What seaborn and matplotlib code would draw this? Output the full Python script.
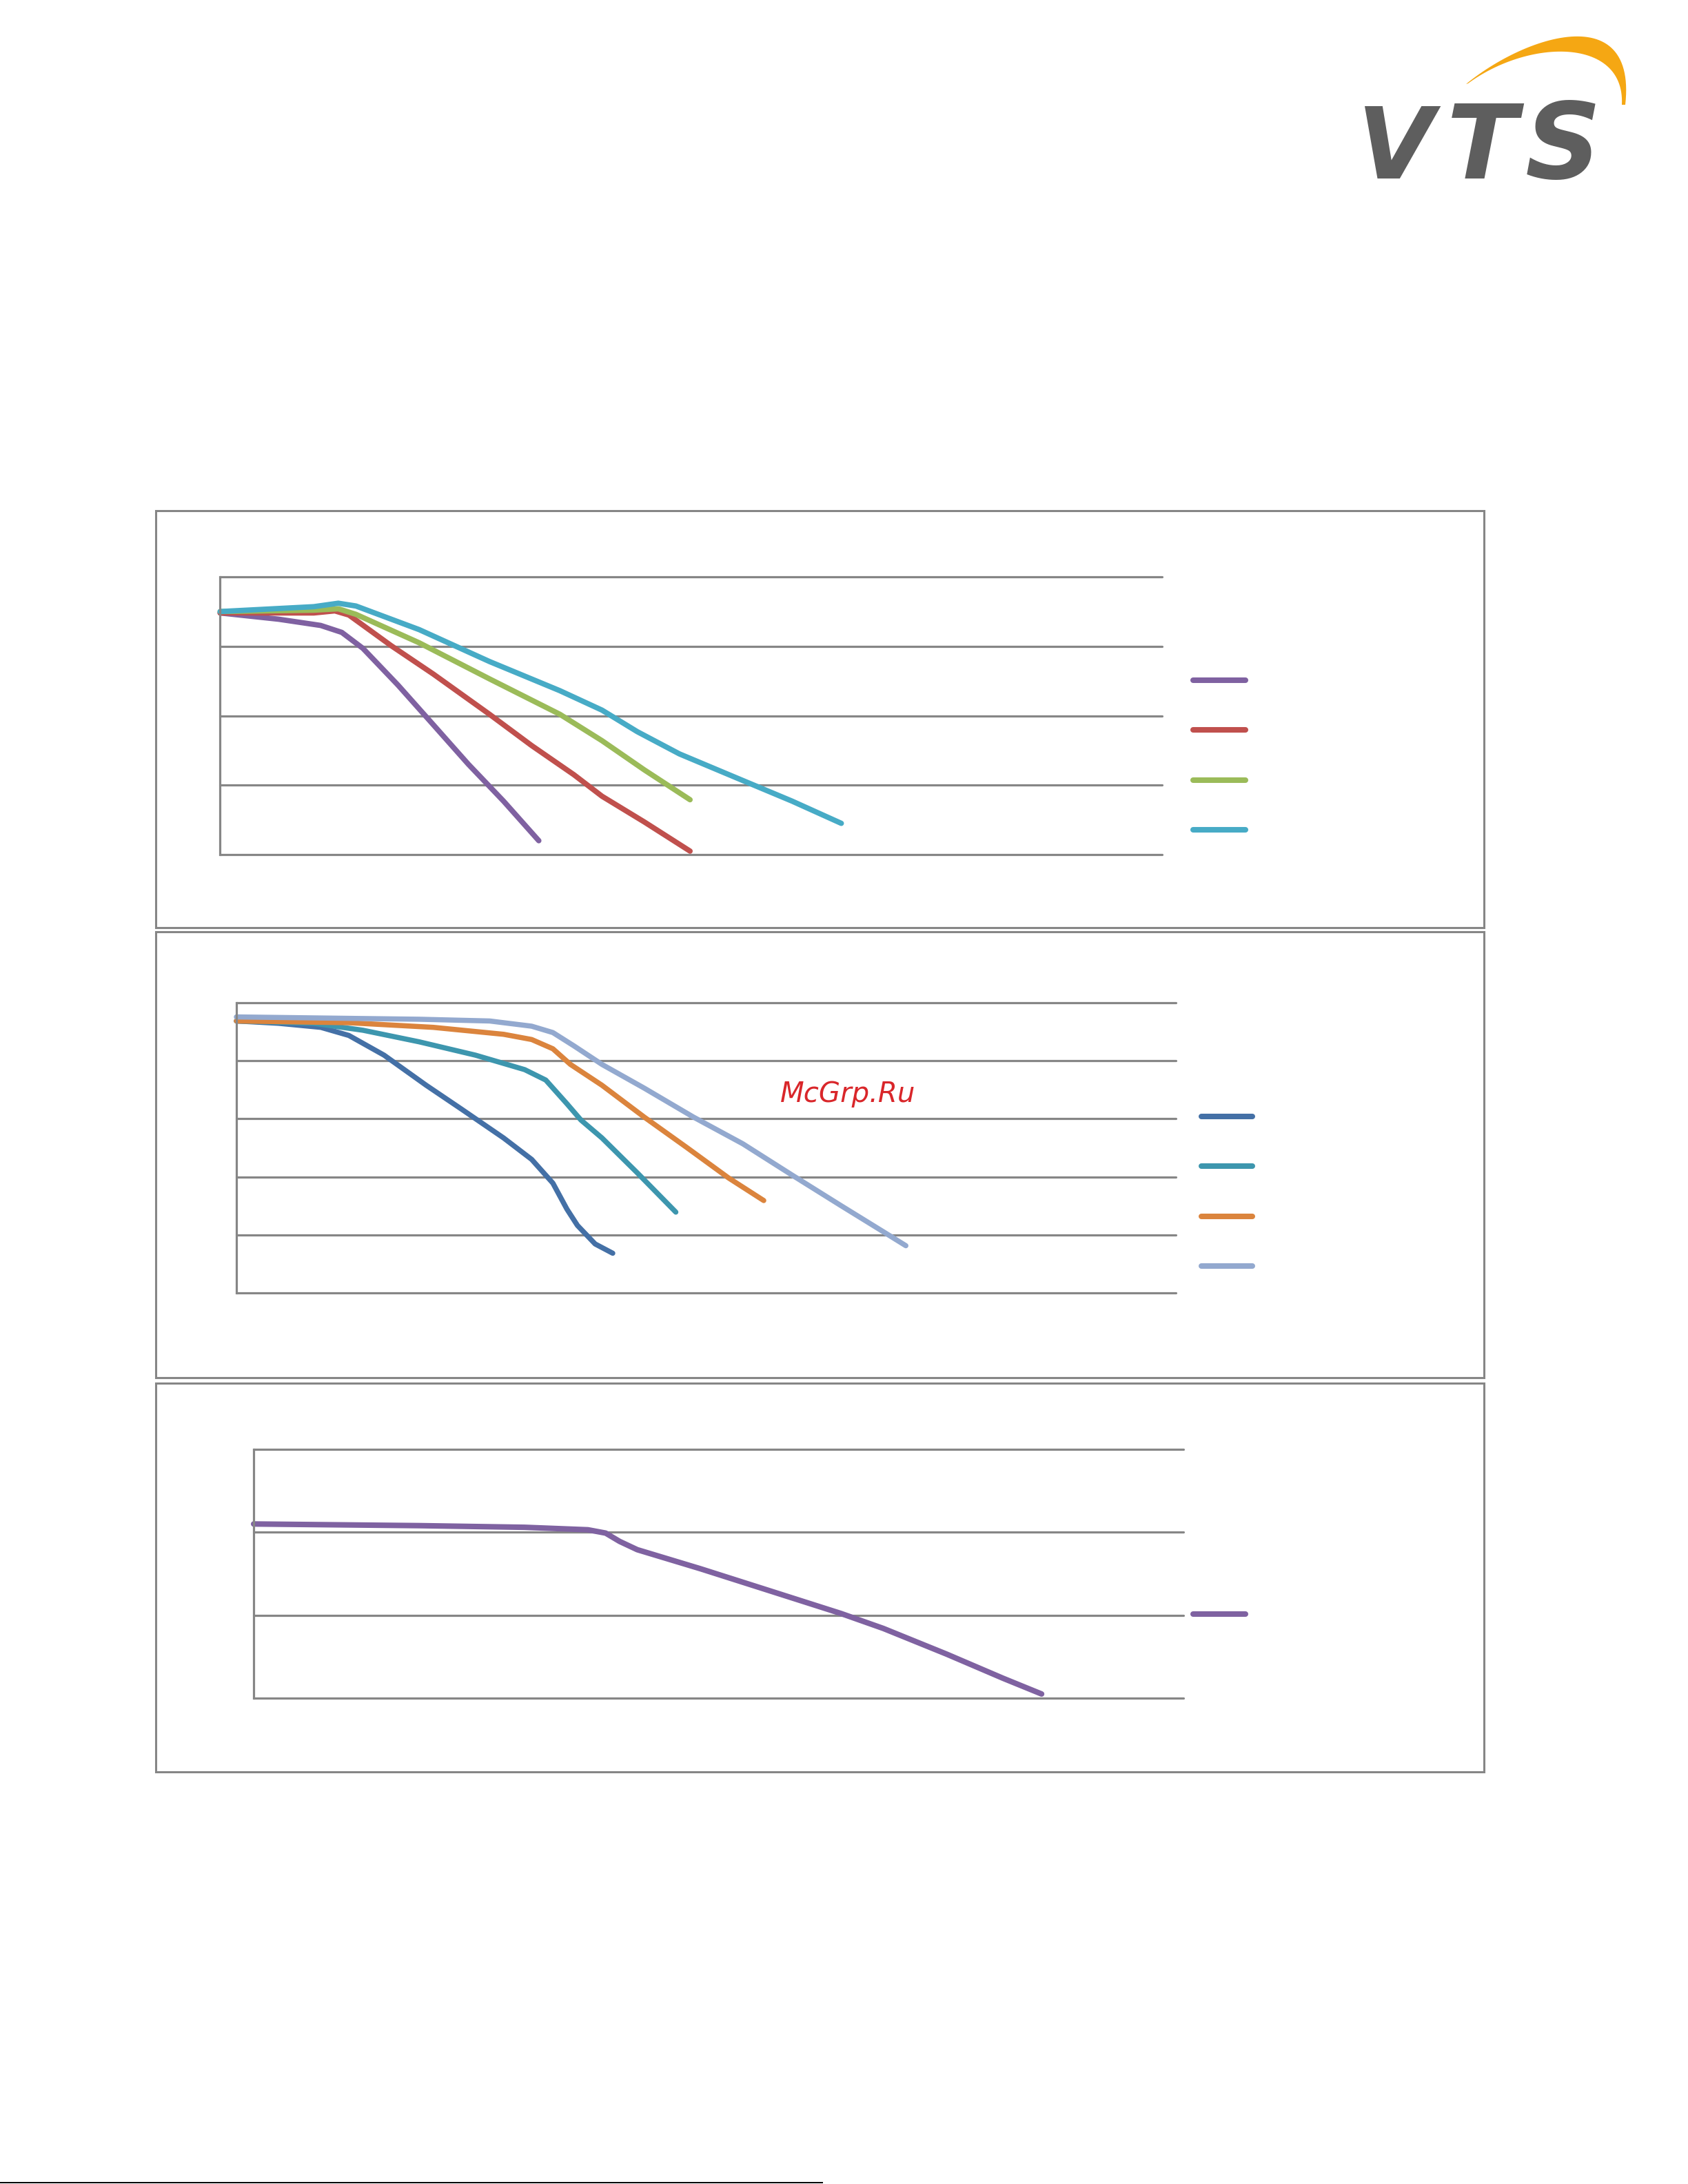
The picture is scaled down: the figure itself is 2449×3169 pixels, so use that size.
import numpy as np
import pandas as pd
import matplotlib
matplotlib.use("Agg")
import matplotlib.pyplot as plt
import seaborn as sns
from matplotlib.patches import Rectangle, Polygon
from matplotlib.lines import Line2D

# ---------------- data ----------------
# Panel 1 (airflow 0..7000, pressure 0..400)
p1_names = ["A1", "A2", "A3", "A4"]
p1_colors = ["#7F61A1", "#C0504D", "#9BBB59", "#47ABC6"]
p1_a1_x = [0, 434, 747, 904, 1061, 1322, 1584, 1845, 2106, 2368]
p1_a1_y = [348, 339, 330, 320, 297, 244, 187, 130, 77, 20]
p1_a2_x = [0, 695, 852, 957, 1270, 1584, 2002, 2315, 2629, 2838, 3152, 3492]
p1_a2_y = [348, 348, 351, 345, 301, 260, 202, 157, 115, 84, 47, 5]
p1_a3_x = [0, 695, 878, 1009, 1479, 2002, 2525, 2838, 3152, 3492]
p1_a3_y = [350, 352, 354, 346, 305, 253, 202, 164, 122, 79]
p1_a4_x = [0, 695, 878, 1009, 1479, 2002, 2525, 2838, 3100, 3413, 3831, 4250, 4616]
p1_a4_y = [350, 357, 362, 358, 324, 278, 236, 208, 177, 145, 111, 77, 45]

# Panel 2 (airflow 0..7000, pressure 0..500)
p2_names = ["B1", "B2", "B3", "B4"]
p2_colors = ["#4470A6", "#3D96AE", "#DB843D", "#93A9CF"]
p2_b1_x = [0, 314, 629, 838, 1100, 1414, 1676, 1991, 2200, 2358, 2463, 2541, 2673, 2804]
p2_b1_y = [469, 465, 458, 444, 410, 358, 317, 267, 230, 189, 144, 116, 84, 68]
p2_b2_x = [0, 576, 943, 1362, 1781, 2148, 2305, 2463, 2567, 2724, 2986, 3274]
p2_b2_y = [469, 465, 453, 433, 410, 385, 367, 326, 298, 267, 207, 139]
p2_b3_x = [0, 838, 1467, 1991, 2200, 2358, 2489, 2724, 3039, 3353, 3667, 3929]
p2_b3_y = [469, 466, 458, 446, 437, 421, 394, 358, 303, 251, 198, 159]
p2_b4_x = [0, 1362, 1887, 2200, 2358, 2515, 2724, 3039, 3406, 3773, 4140, 4506, 4821, 4988]
p2_b4_y = [476, 472, 469, 460, 449, 426, 394, 353, 303, 257, 203, 150, 105, 81]

# Panel 3 (airflow 0..7000, pressure 0..300)
p3_names = ["C1"]
p3_colors = ["#7F62A1"]
p3_c1_x = [0, 1246, 2040, 2517, 2650, 2755, 2888, 3364, 3894, 4423, 4741, 5218, 5641, 5932]
p3_c1_y = [210, 208, 206, 203, 199, 189, 179, 156, 129, 102, 84, 53, 24, 5]

p1_series = [(p1_a1_x, p1_a1_y), (p1_a2_x, p1_a2_y), (p1_a3_x, p1_a3_y), (p1_a4_x, p1_a4_y)]
p2_series = [(p2_b1_x, p2_b1_y), (p2_b2_x, p2_b2_y), (p2_b3_x, p2_b3_y), (p2_b4_x, p2_b4_y)]
p3_series = [(p3_c1_x, p3_c1_y)]

# ---------------- style ----------------
sns.set_style("white")
plt.rcParams["font.family"] = ["DejaVu Sans"]
plt.rcParams["lines.solid_capstyle"] = "round"
plt.rcParams["lines.solid_joinstyle"] = "round"

W, H = 2449, 3169
fig = plt.figure(figsize=(W / 100, H / 100), dpi=100)
fig.patch.set_facecolor("white")

GRID = "#868686"

# background overlay in pixel coords
bg = fig.add_axes([0, 0, 1, 1], zorder=0)
bg.set_xlim(0, W)
bg.set_ylim(H, 0)
bg.axis("off")

# panel boxes
for (x0, y0, x1, y1) in [(226, 741, 2153, 1346), (226, 1352, 2153, 1999), (226, 2007, 2153, 2571)]:
    bg.add_patch(Rectangle((x0, y0), x1 - x0, y1 - y0, fill=False, edgecolor=GRID, lw=2.2))

# bottom rule
bg.plot([0, 1194], [3167, 3167], color="black", lw=1.4, solid_capstyle="butt")

# VTS logo
logo_grey = "#5E5E5E"
for ch, cx, fs in zip(["V", "T", "S"], [2025, 2150, 2268], [104, 108, 110]):
    bg.text(cx, 259, ch, fontsize=fs, fontweight="bold", fontstyle="oblique",
            family=["DejaVu Sans"], color=logo_grey, ha="center", va="baseline")


def bezier(p0, p1, p2, p3, n=60):
    t = np.linspace(0, 1, n)[:, None]
    p0, p1, p2, p3 = (np.array(p) for p in (p0, p1, p2, p3))
    return (1 - t) ** 3 * p0 + 3 * (1 - t) ** 2 * t * p1 + 3 * (1 - t) * t ** 2 * p2 + t ** 3 * p3


outer = bezier((2127, 122), (2215, 50), (2375, 0), (2358, 152))
inner = bezier((2353, 152), (2358, 55), (2220, 55), (2130, 121))
bg.add_patch(Polygon(np.vstack([outer, inner]), closed=True, facecolor="#F5A713", edgecolor="none"))

# watermark
bg.text(1230, 1599, "McGrp.Ru", fontsize=29, fontstyle="italic", color="#D9262A",
        ha="center", va="baseline", zorder=5)


def make_axes(left, right, top, bottom):
    return fig.add_axes([left / W, 1 - bottom / H, (right - left) / W, (bottom - top) / H],
                        zorder=2, facecolor="none")


def draw_panel(ax, series, names, colors, ymax, step, lw):
    rows = []
    for (xs, ys), n in zip(series, names):
        for xv, yv in zip(xs, ys):
            rows.append((n, xv, yv))
    df = pd.DataFrame(rows, columns=["series", "x", "y"])
    sns.lineplot(data=df, x="x", y="y", hue="series", palette=dict(zip(names, colors)),
                 sort=False, estimator=None, legend=False, ax=ax)
    for ln in ax.get_lines():
        ln.set_linewidth(lw)
        ln.set_clip_on(False)
        ln.set_solid_capstyle("round")
        ln.set_solid_joinstyle("round")
    ax.set_xlim(0, 7000)
    ax.set_ylim(0, ymax)
    for v in np.arange(0, ymax + 1, step):
        ax.axhline(v, color=GRID, lw=2.3, clip_on=False, zorder=0.5)
    for s in ["top", "right", "bottom"]:
        ax.spines[s].set_visible(False)
    ax.spines["left"].set_color(GRID)
    ax.spines["left"].set_linewidth(2.3)
    ax.set_xticks([])
    ax.set_yticks([])
    ax.set_xlabel("")
    ax.set_ylabel("")


ax1 = make_axes(319.4, 1686, 837, 1240)
draw_panel(ax1, p1_series, p1_names, p1_colors, 400, 100, 5.6)
ax2 = make_axes(343, 1706, 1455.4, 1875.6)
draw_panel(ax2, p2_series, p2_names, p2_colors, 500, 100, 5.4)
ax3 = make_axes(368, 1717, 2103, 2464)
draw_panel(ax3, p3_series, p3_names, p3_colors, 300, 100, 5.8)


# legend swatches (no text in reference)
def swatches(x0, x1, ys, colors):
    for y, c in zip(ys, colors):
        bg.add_line(Line2D([x0 + 4, x1 - 4], [y, y], color=c, lw=5.8, solid_capstyle="round"))


swatches(1727, 1811, [987, 1059, 1132, 1204], p1_colors)
swatches(1739, 1821, [1620, 1692, 1765, 1837], p2_colors)
swatches(1727, 1811, [2342], p3_colors)

fig.savefig("out.png", dpi=100, facecolor="white")
